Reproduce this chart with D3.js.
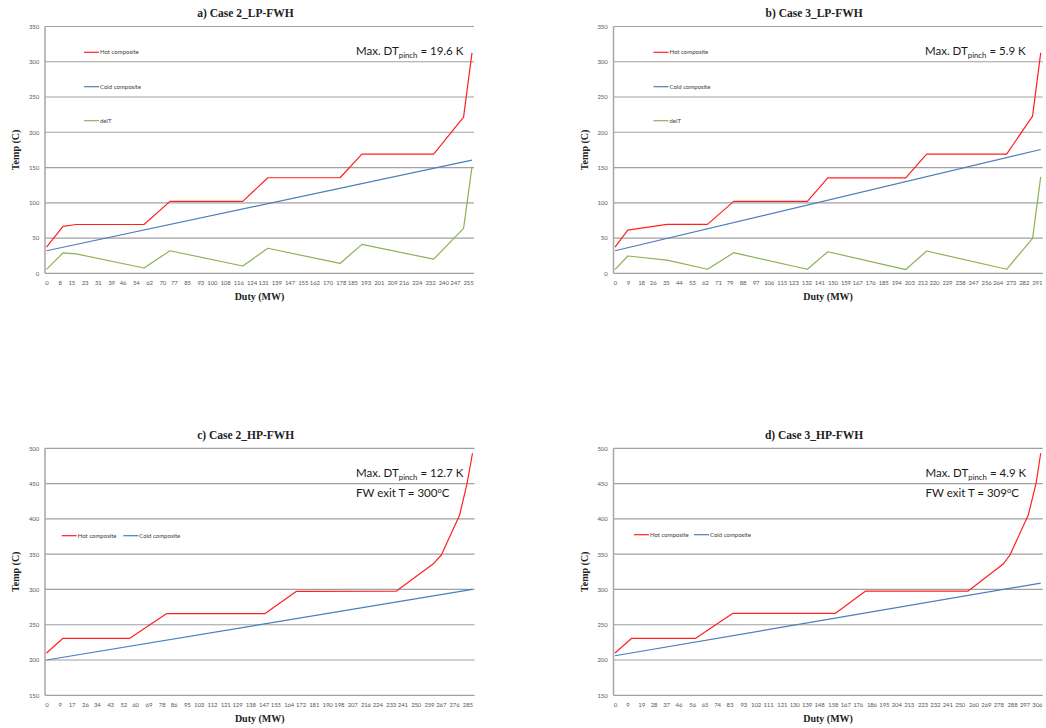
<!DOCTYPE html>
<html>
<head>
<meta charset="utf-8">
<script src="https://cdn.jsdelivr.net/npm/d3@7"></script>
<style>
  html, body { margin: 0; padding: 0; background: #ffffff; }
  svg { display: block; }
</style>
</head>
<body>
<div id="chart"></div>
<script>
// Composite curves for the feed-water heaters: [duty (MW), temperature (C)] pairs.

// a) Case 2 LP-FWH
const ticksA = [0,8,15,23,31,39,46,54,62,70,77,85,93,100,108,116,124,131,139,147,155,162,170,178,185,193,201,209,216,224,232,240,247,255];
const hotA = [[0,37],[10,66.6],[18,69.2],[59,69.2],[74.7,102],[118.7,102],[133.9,135.5],[177.6,135.5],[190.8,169],[234.2,169],[252.3,221.5],[257.4,312.5]];
const coldA = [[0,32],[257.4,160.5]];
const delTA = [[0,5.5],[10,29],[18,27.5],[59,7.5],[74.7,32],[118.7,10.3],[133.9,35.5],[177.6,14],[190.8,41],[234.2,20],[252.3,63.7],[257.4,151]];

// b) Case 3 LP-FWH
const ticksB = [0,9,18,26,35,44,53,62,71,79,88,97,106,115,123,132,141,150,159,167,176,185,194,203,212,220,229,238,247,256,264,273,282,291];
const hotB = [[0,37],[8.8,61.3],[35.9,69.4],[63.8,69.4],[81.9,102],[132.7,102],[146.8,135.4],[200.6,135.4],[215,169],[270.2,169],[288.1,223],[293.7,312.5]];
const coldB = [[0,32],[293.7,175.6]];
const delTB = [[0,5.3],[8.8,24.5],[35.9,18.8],[63.8,5.7],[81.9,29.2],[132.7,5.7],[146.8,30.6],[200.6,5.3],[215,31.6],[270.2,5.7],[288.1,49.6],[293.7,136.8]];

// c) Case 2 HP-FWH
const ticksC = [0,9,17,26,34,43,52,60,69,78,86,95,103,112,121,129,138,147,155,164,172,181,190,198,207,216,224,233,241,250,259,267,276,285];
const hotC = [[0,210],[11.2,230.8],[56.4,230.8],[81.2,265.6],[147.8,265.6],[169.3,297.4],[237,297.7],[261.8,336],[267.4,348.8],[279.8,405.5],[284.8,450],[288.5,493]];
const coldC = [[0,200],[288.5,300]];

// d) Case 3 HP-FWH
const ticksD = [0,9,19,28,37,46,56,65,74,83,93,102,111,121,130,139,148,158,167,176,186,195,204,213,223,232,241,250,260,269,278,288,297,306];
const hotD = [[0,210],[12.1,230.8],[58.5,230.8],[85.3,266],[159.7,266],[181.6,297.5],[256.2,297.7],[281.6,336],[286.5,348.8],[299.8,405.5],[305.4,450],[308.8,493]];
const coldD = [[0,206],[308.8,309]];

const seriesNames = ["Hot composite", "Cold composite", "delT"];
const seriesColors = ["#ff2020", "#4a7ebb", "#8db255"];

const W = 1046, H = 728;
const svg = d3.select("#chart").append("svg")
  .attr("width", W).attr("height", H)
  .attr("viewBox", `0 0 ${W} ${H}`);
svg.append("rect").attr("width", W).attr("height", H).attr("fill", "#ffffff");

const tickFont = "Lato, 'Open Sans', sans-serif";
const serif = "'Liberation Serif', 'DejaVu Serif', serif";

function styleTicks(sel) {
  sel.selectAll("text")
    .attr("font-family", tickFont).attr("font-size", 6)
    .attr("letter-spacing", -0.15).attr("fill", "#595959");
}

function drawPanel(p) {
  const g = svg.append("g");
  const x = d3.scaleLinear().domain([0, p.dutyMax]).range([p.left + 1.5, p.right - 2]);
  const y = d3.scaleLinear().domain(p.tempDomain).range([p.bottom, p.top]);
  const yTicks = d3.range(p.tempDomain[0], p.tempDomain[1] + 1, 50);

  // horizontal gridlines
  g.selectAll("line.grid").data(yTicks).join("line")
    .attr("class", "grid")
    .attr("x1", p.left).attr("x2", p.right)
    .attr("y1", d => y(d)).attr("y2", d => y(d))
    .attr("stroke", "#a0a0a0").attr("stroke-width", 1.2);

  // vertical axis line
  g.append("line")
    .attr("x1", p.left).attr("x2", p.left)
    .attr("y1", p.top).attr("y2", p.bottom)
    .attr("stroke", "#a6a6a6").attr("stroke-width", 1.5);

  // y axis labels
  const yAxis = g.append("g").attr("transform", `translate(${p.left},0)`)
    .call(d3.axisLeft(y).tickValues(yTicks).tickSize(0).tickPadding(6).tickFormat(d3.format("d")));
  yAxis.select(".domain").remove();
  styleTicks(yAxis);

  // x axis labels (duty)
  const xAxis = g.append("g").attr("transform", `translate(0,${p.bottom})`)
    .call(d3.axisBottom(x).tickValues(p.ticks).tickSize(0).tickPadding(7.3).tickFormat(d3.format("d")));
  xAxis.select(".domain").remove();
  styleTicks(xAxis);

  // series lines
  const line = d3.line().x(d => x(d[0])).y(d => y(d[1]));
  p.series.forEach((s, i) => {
    g.append("path").datum(s)
      .attr("d", line)
      .attr("fill", "none")
      .attr("stroke", seriesColors[i])
      .attr("stroke-width", 1.2)
      .attr("stroke-linejoin", "round");
  });

  // titles
  g.append("text")
    .attr("x", (p.left + p.right) / 2 - 14).attr("y", p.top - 9.5)
    .attr("text-anchor", "middle")
    .attr("font-family", serif).attr("font-weight", "bold").attr("font-size", 11.5)
    .attr("fill", "#222")
    .text(p.title);
  g.append("text")
    .attr("x", (p.left + p.right) / 2).attr("y", p.bottom + 26.5)
    .attr("text-anchor", "middle")
    .attr("font-family", serif).attr("font-weight", "bold").attr("font-size", 10)
    .attr("fill", "#222")
    .text("Duty (MW)");
  g.append("text")
    .attr("transform", `translate(${p.left - 26},${(p.top + p.bottom) / 2}) rotate(-90)`)
    .attr("text-anchor", "middle")
    .attr("font-family", serif).attr("font-weight", "bold").attr("font-size", 10)
    .attr("fill", "#222")
    .text("Temp (C)");

  // legend
  p.legend.forEach((item, i) => {
    const lg = g.append("g").attr("transform", `translate(${item[0]},${item[1]})`);
    lg.append("line").attr("x1", 0).attr("x2", 15).attr("y1", 0).attr("y2", 0)
      .attr("stroke", seriesColors[i]).attr("stroke-width", 1.2);
    lg.append("text").attr("x", 16).attr("y", 2)
      .attr("font-family", tickFont).attr("font-size", 6).attr("fill", "#404040")
      .text(seriesNames[i]);
  });

  // annotations
  const t1 = g.append("text")
    .attr("x", p.noteX).attr("y", p.noteY)
    .attr("font-family", tickFont).attr("font-size", 11.5).attr("fill", "#1a1a1a");
  t1.append("tspan").text("Max. DT");
  t1.append("tspan").attr("font-size", 7.8).attr("dy", 3).text("pinch");
  t1.append("tspan").attr("dy", -3).text(` = ${p.pinch} K`);
  if (p.exitT !== undefined) {
    const t2 = g.append("text")
      .attr("x", p.noteX).attr("y", p.noteY + 20.5)
      .attr("font-family", tickFont).attr("font-size", 11.5).attr("fill", "#1a1a1a");
    t2.append("tspan").text(`FW exit T = ${p.exitT}`);
    t2.append("tspan").attr("font-size", 7.5).attr("dy", -4.3).text("o");
    t2.append("tspan").attr("dy", 4.3).text("C");
  }
}

drawPanel({
  title: "a) Case 2_LP-FWH", ticks: ticksA, dutyMax: 257.4, tempDomain: [0, 350],
  left: 45, right: 474, top: 26.5, bottom: 273.3,
  series: [hotA, coldA, delTA],
  legend: [[84, 52.3], [84, 86.7], [84, 120.7]],
  noteX: 356, noteY: 54.5, pinch: "19.6"
});
drawPanel({
  title: "b) Case 3_LP-FWH", ticks: ticksB, dutyMax: 293.7, tempDomain: [0, 350],
  left: 613.5, right: 1042.7, top: 26.5, bottom: 273.3,
  series: [hotB, coldB, delTB],
  legend: [[653.5, 52.3], [653.5, 86.7], [653.5, 120.7]],
  noteX: 925, noteY: 54.5, pinch: "5.9"
});
drawPanel({
  title: "c) Case 2_HP-FWH", ticks: ticksC, dutyMax: 288.5, tempDomain: [150, 500],
  left: 45, right: 474.5, top: 448.3, bottom: 695.3,
  series: [hotC, coldC],
  legend: [[61.7, 535.7], [123.3, 535.7]],
  noteX: 356, noteY: 476.5, pinch: "12.7", exitT: 300
});
drawPanel({
  title: "d) Case 3_HP-FWH", ticks: ticksD, dutyMax: 308.8, tempDomain: [150, 500],
  left: 613.5, right: 1042.7, top: 448.3, bottom: 695.3,
  series: [hotD, coldD],
  legend: [[634, 534.7], [694, 534.7]],
  noteX: 925.5, noteY: 476.5, pinch: "4.9", exitT: 309
});
</script>
</body>
</html>
